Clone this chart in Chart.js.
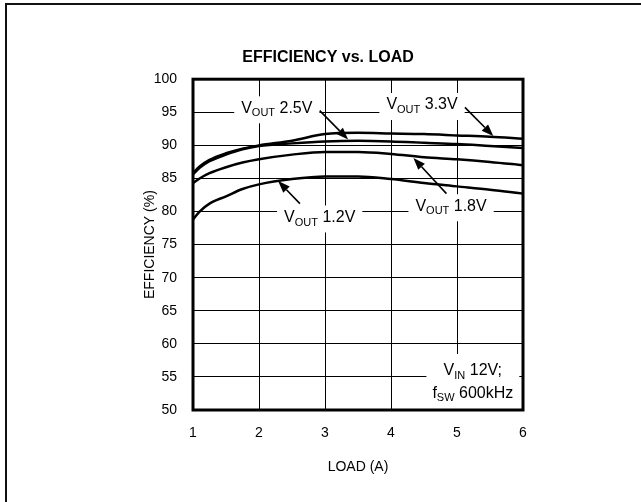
<!DOCTYPE html>
<html>
<head>
<meta charset="utf-8">
<script src="https://cdn.jsdelivr.net/npm/chart.js@4.4.0/dist/chart.umd.min.js"></script>
<style>
body { margin: 0; background: #fff; overflow: hidden; }
canvas { display: block; }
</style>
</head>
<body>
<canvas id="effChart" width="641" height="502"></canvas>
<script>
// load points (A) and efficiency (%)
var loadA  = [1, 1.1, 1.25, 1.5, 1.75, 2, 2.5, 3, 3.5, 4, 4.5, 5, 5.5, 6];
var eff33  = [85.8, 86.8, 87.8, 88.8, 89.5, 90.0, 90.7, 91.7, 91.9, 91.8, 91.7, 91.5, 91.3, 91.0];
var eff25  = [85.6, 86.6, 87.6, 88.6, 89.4, 89.9, 90.3, 90.6, 90.7, 90.6, 90.4, 90.2, 89.9, 89.6];
var eff18  = [84.3, 85.0, 85.8, 86.7, 87.4, 87.9, 88.6, 89.0, 89.0, 88.7, 88.2, 87.9, 87.5, 87.0];
var eff12  = [78.8, 80.0, 81.2, 82.3, 83.4, 84.1, 84.9, 85.3, 85.3, 84.9, 84.3, 83.8, 83.3, 82.7];
var seriesNames = ['VOUT 3.3V', 'VOUT 2.5V', 'VOUT 1.8V', 'VOUT 1.2V'];
var xTicks = [1, 2, 3, 4, 5, 6];
var yTicks = [50, 55, 60, 65, 70, 75, 80, 85, 90, 95, 100];

var fam = "'Liberation Sans', Arial, sans-serif";

function pts(ys) {
	return loadA.map(function (x, i) { return { x: x, y: ys[i] }; });
}

// callout labels: text center and arrow, in data units
var callouts = [
	{ main: 'V', sub: 'OUT', rest: ' 2.5V', at: [2.27, 95.6], from: [2.92, 95.25], to: [3.35, 90.9] },
	{ main: 'V', sub: 'OUT', rest: ' 3.3V', at: [4.47, 96.1], from: [5.12, 95.75], to: [5.55, 91.4] },
	{ main: 'V', sub: 'OUT', rest: ' 1.8V', at: [4.91, 80.8], from: [4.84, 82.7], to: [4.34, 88.1] },
	{ main: 'V', sub: 'OUT', rest: ' 1.2V', at: [2.92, 79.1], from: [2.62, 81.2], to: [2.29, 84.6] }
];
var condNote = [
	{ main: 'V', sub: 'IN', rest: ' 12V;', at: [5.24, 55.9] },
	{ main: 'f', sub: 'SW', rest: ' 600kHz', at: [5.24, 52.5] }
];

function measureLabel(ctx, l) {
	ctx.font = '16px ' + fam;
	var a = ctx.measureText(l.main).width;
	var c = ctx.measureText(l.rest).width;
	ctx.font = '11px ' + fam;
	var b = ctx.measureText(l.sub).width;
	return { a: a, b: b, c: c, w: a + b + c };
}

function drawLabel(ctx, l, cx, cy) {
	var m = measureLabel(ctx, l);
	var x = cx - m.w / 2;
	ctx.fillStyle = '#000';
	ctx.textBaseline = 'middle';
	ctx.textAlign = 'left';
	ctx.font = '16px ' + fam;
	ctx.fillText(l.main, x, cy);
	ctx.font = '11px ' + fam;
	ctx.fillText(l.sub, x + m.a, cy + 5);
	ctx.font = '16px ' + fam;
	ctx.fillText(l.rest, x + m.a + m.b, cy);
}

function arrow(ctx, x1, y1, x2, y2) {
	var ang = Math.atan2(y2 - y1, x2 - x1);
	var len = 12, hw = 4.5;
	var bx = x2 - len * Math.cos(ang), by = y2 - len * Math.sin(ang);
	ctx.strokeStyle = '#000';
	ctx.lineWidth = 1.6;
	ctx.beginPath();
	ctx.moveTo(x1, y1);
	ctx.lineTo(bx, by);
	ctx.stroke();
	ctx.fillStyle = '#000';
	ctx.beginPath();
	ctx.moveTo(x2, y2);
	ctx.lineTo(bx + hw * Math.sin(ang), by - hw * Math.cos(ang));
	ctx.lineTo(bx - hw * Math.sin(ang), by + hw * Math.cos(ang));
	ctx.closePath();
	ctx.fill();
}

var notesPlugin = {
	id: 'notes',
	beforeDatasetsDraw: function (chart) {
		var ctx = chart.ctx, xs = chart.scales.x, ys = chart.scales.y, a = chart.chartArea;
		ctx.save();
		// white boxes that break the grid behind the labels
		ctx.fillStyle = '#fff';
		callouts.forEach(function (l) {
			var m = measureLabel(ctx, l);
			var cx = xs.getPixelForValue(l.at[0]), cy = ys.getPixelForValue(l.at[1]);
			ctx.fillRect(cx - m.w / 2 - 7, cy - 12, m.w + 14, 27);
		});
		var w = 0;
		condNote.forEach(function (l) { w = Math.max(w, measureLabel(ctx, l).w); });
		var nx = xs.getPixelForValue(condNote[0].at[0]);
		var ny = ys.getPixelForValue(condNote[0].at[1]);
		ctx.fillRect(nx - w / 2 - 6, ny - 17, w + 12, a.bottom - ny + 17);
		ctx.restore();
	},
	afterDraw: function (chart) {
		var ctx = chart.ctx, xs = chart.scales.x, ys = chart.scales.y, a = chart.chartArea;
		ctx.save();
		// plot frame
		ctx.strokeStyle = '#000';
		ctx.lineWidth = 3;
		ctx.strokeRect(a.left, a.top, a.right - a.left, a.bottom - a.top);
		// outer border (top and left only are in the picture)
		ctx.lineWidth = 2;
		ctx.strokeStyle = '#111';
		ctx.beginPath();
		ctx.moveTo(6, 502);
		ctx.lineTo(6, 4);
		ctx.lineTo(641, 4);
		ctx.stroke();
		callouts.forEach(function (l) {
			drawLabel(ctx, l, xs.getPixelForValue(l.at[0]), ys.getPixelForValue(l.at[1]));
			arrow(ctx, xs.getPixelForValue(l.from[0]), ys.getPixelForValue(l.from[1]),
				xs.getPixelForValue(l.to[0]), ys.getPixelForValue(l.to[1]));
		});
		condNote.forEach(function (l) {
			drawLabel(ctx, l, xs.getPixelForValue(l.at[0]), ys.getPixelForValue(l.at[1]));
		});
		ctx.restore();
	}
};

var ctx = document.getElementById('effChart').getContext('2d');
var effChart = new Chart(ctx, {
	type: 'line',
	data: {
		datasets: [eff33, eff25, eff18, eff12].map(function (d, i) {
			return {
				label: seriesNames[i],
				data: pts(d),
				borderColor: '#000',
				borderWidth: 2.5,
				pointRadius: 0,
				fill: false,
				cubicInterpolationMode: 'monotone'
			};
		})
	},
	options: {
		responsive: false,
		animation: false,
		layout: { padding: { left: 133, right: 118, top: 48, bottom: 26 } },
		plugins: {
			legend: { display: false },
			tooltip: { enabled: false },
			title: {
				display: true,
				text: 'EFFICIENCY vs. LOAD',
				color: '#000',
				font: { family: fam, size: 16, weight: 'bold' },
				padding: { top: 0, bottom: 12 }
			}
		},
		scales: {
			x: {
				type: 'linear',
				min: xTicks[0],
				max: xTicks[xTicks.length - 1],
				afterBuildTicks: function (s) { s.ticks = xTicks.map(function (v) { return { value: v }; }); },
				afterFit: function (s) { s.height = 66; },
				grid: { color: '#000', lineWidth: 1, drawTicks: false },
				border: { display: false },
				ticks: { color: '#000', padding: 15, maxRotation: 0, font: { family: fam, size: 14 } },
				title: { display: true, text: 'LOAD (A)', color: '#000', padding: { top: 0, bottom: 0 }, font: { family: fam, size: 14 } }
			},
			y: {
				min: yTicks[0],
				max: yTicks[yTicks.length - 1],
				afterBuildTicks: function (s) { s.ticks = yTicks.map(function (v) { return { value: v }; }); },
				afterFit: function (s) { s.width = 60; },
				grid: { color: '#000', lineWidth: 1, drawTicks: false },
				border: { display: false },
				ticks: { color: '#000', padding: 16, font: { family: fam, size: 14 } },
				title: { display: true, text: 'EFFICIENCY (%)', color: '#000', padding: { top: 9, bottom: 0 }, font: { family: fam, size: 14 } }
			}
		}
	},
	plugins: [notesPlugin]
});
</script>
</body>
</html>
